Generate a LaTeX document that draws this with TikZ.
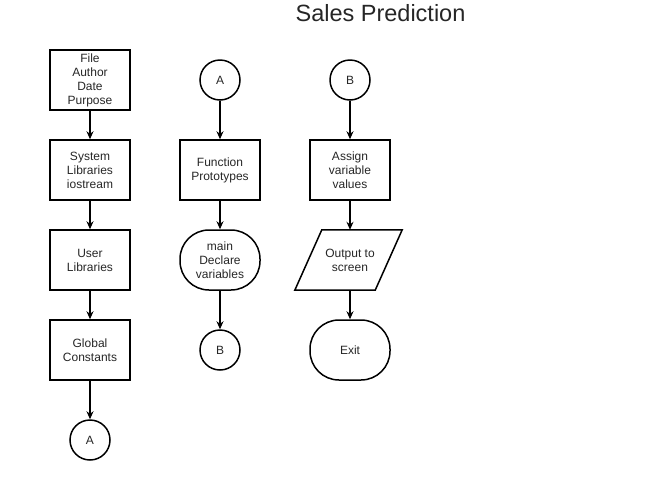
\documentclass[tikz,border=0pt]{standalone}
\usepackage{fontspec}
\setmainfont{Liberation Sans}
\usetikzlibrary{arrows.meta,shapes.geometric}
\begin{document}
\begin{tikzpicture}[x=1pt,y=-1pt,
  every node/.style={font=\fontsize{12}{14}\selectfont, align=center, text=black!85},
  proc/.style={draw, line width=1.5pt, minimum width=80pt, minimum height=60pt, inner sep=1pt},
  term/.style={draw, line width=1.5pt, minimum width=80pt, minimum height=60pt, rounded corners=29pt, inner sep=1pt},
  conn/.style={draw, circle, line width=1.5pt, minimum size=40pt, inner sep=0pt},
  iobox/.style={minimum width=80pt, minimum height=60pt, inner sep=1pt},
  shapeline/.style={line width=1.5pt, line join=miter},
  arr/.style={line width=1.5pt, -{Stealth[length=8pt,width=7pt]}}
]
\useasboundingbox (0,0) rectangle (650,480);
\node[font=\fontsize{23.5}{26}\selectfont] (title) at (380.5,13) {Sales Prediction};
% column 1
\node[proc] (f) at (90,80) {File\\Author\\Date\\Purpose};
\node[proc] (s) at (90,170) {System\\Libraries\\iostream};
\node[proc] (u) at (90,260) {User\\Libraries};
\node[proc] (g) at (90,350) {Global\\Constants};
\node[conn] (a1) at (90,440) {A};
% column 2
\node[conn] (a2) at (220,80) {A};
\node[proc] (fp) at (220,170) {Function\\Prototypes};
\node[term] (m) at (220,260) {main\\Declare\\variables};
\node[conn] (b1) at (220,350) {B};
% column 3
\node[conn] (b2) at (350,80) {B};
\node[proc] (av) at (350,170) {Assign\\variable\\ values};
\node[iobox] (o) at (350,260) {Output to\\screen};
\draw[shapeline] ([xshift=12pt]o.north west) -- ([xshift=12pt]o.north east)
  -- ([xshift=-15pt]o.south east) -- ([xshift=-15pt]o.south west) -- cycle;
\node[term] (e) at (350,350) {Exit};
\draw[arr] (f) -- (s);
\draw[arr] (s) -- (u);
\draw[arr] (u) -- (g);
\draw[arr] (g) -- (a1);
\draw[arr] (a2) -- (fp);
\draw[arr] (fp) -- (m);
\draw[arr] (m) -- (b1);
\draw[arr] (b2) -- (av);
\draw[arr] (av) -- (o);
\draw[arr] (o) -- (e);
\end{tikzpicture}
\end{document}
